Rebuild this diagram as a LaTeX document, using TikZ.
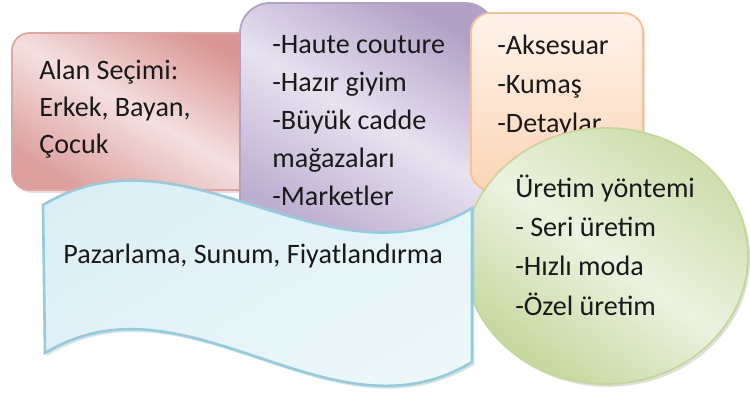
\documentclass[tikz,border=0pt]{standalone}
\usepackage{fontspec}
\setmainfont{Carlito}
\usepackage{tikz}
\usetikzlibrary{shadows}
\definecolor{redDark}{RGB}{217,150,148}
\definecolor{redLight}{RGB}{244,224,223}
\definecolor{purDark}{RGB}{178,161,199}
\definecolor{purLight}{RGB}{232,226,240}
\definecolor{oraDark}{RGB}{252,213,181}
\definecolor{oraLight}{RGB}{254,243,235}
\definecolor{oraLine}{RGB}{250,192,144}
\definecolor{grnDark}{RGB}{196,215,155}
\definecolor{grnLight}{RGB}{236,242,224}
\definecolor{bluFill}{RGB}{218,238,243}
\definecolor{bluLight}{RGB}{238,248,251}
\definecolor{bluLine}{RGB}{147,205,221}

\begin{document}
\begin{tikzpicture}[x=0.02cm, y=-0.02cm, font=\fontsize{16}{21}\selectfont,
  shape box/.style={line width=1pt, drop shadow={opacity=0.25, shadow xshift=1.2pt, shadow yshift=-1.6pt}},
  txt/.style={anchor=base west, align=left, inner sep=0pt, text=black!90}]
  \useasboundingbox (0,0) rectangle (750,396);

  % Alan secimi
  \path[shape box, draw=redDark!85, rounded corners=10pt,
        top color=redDark, bottom color=redDark!90, middle color=redLight, shading angle=-30]
    (12,33) rectangle (262,190);
  \node[txt] (alan) at (39,153) {Alan Seçimi:\\Erkek, Bayan,\\Çocuk};

  % Giyim turleri
  \path[shape box, draw=purDark, rounded corners=17pt,
        top color=purDark, bottom color=purDark!85, middle color=purLight, shading angle=-30]
    (240,3) rectangle (495,235);
  \node[txt, font=\fontsize{16}{21.6}\selectfont] (giyim) at (272,205)
    {-Haute couture\\-Hazır giyim\\-Büyük cadde\\mağazaları\\-Marketler};

  % Malzeme
  \path[shape box, draw=oraLine, rounded corners=11pt,
        top color=oraLight, bottom color=oraDark]
    (471,13) rectangle (643,190);
  \node[txt, font=\fontsize{16}{22}\selectfont] (malzeme) at (497,132)
    {-Aksesuar\\-Kumaş\\-Detaylar};

  % Uretim
  \path[shape box, draw=grnDark,
        top color=grnDark!85, bottom color=grnDark, middle color=grnLight, shading angle=-35]
    (606,256) ellipse [x radius=142, y radius=128];
  \node[txt, font=\fontsize{16}{22.3}\selectfont] (uretim) at (515,315)
    {Üretim yöntemi\\- Seri üretim\\-Hızlı moda\\-Özel üretim};

  % Pazarlama
  \path[shape box, draw=bluLine, line width=1.5pt,
        top color=bluFill, bottom color=bluLight, shading angle=30]
    (43,205) .. controls (186,119) and (329,294) .. (472,208)
    -- (472,362) .. controls (330,448) and (187,267) .. (45,353) -- cycle;
  \node[txt] (pazar) at (63,263) {Pazarlama, Sunum, Fiyatlandırma};
\end{tikzpicture}
\end{document}
